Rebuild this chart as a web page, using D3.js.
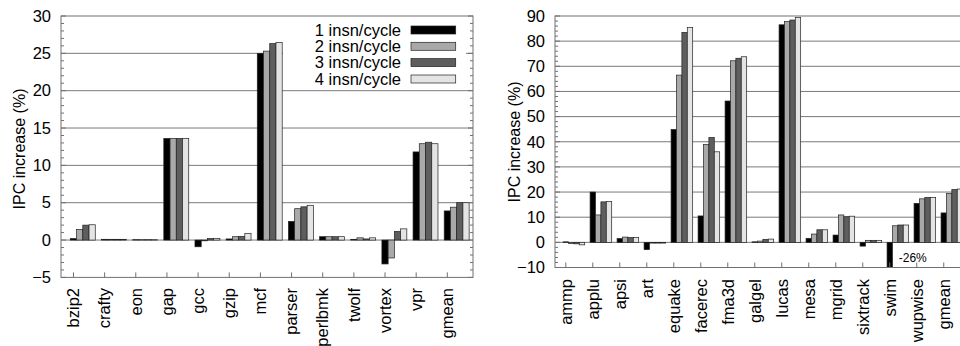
<!DOCTYPE html>
<html><head><meta charset="utf-8">
<script src="https://cdn.jsdelivr.net/npm/d3@7"></script>
<style>body{margin:0;background:#fff}svg{display:block}text{font-family:"Liberation Sans",Arial,sans-serif;fill:#000}</style>
</head><body><svg id="c" width="960" height="346"></svg>
<script>
const seriesNames = ["1 insn/cycle","2 insn/cycle","3 insn/cycle","4 insn/cycle"];
const seriesColors = ["#000000","#a9a9a9","#5e5e5e","#e4e4e4"];

const intCats = ["bzip2","crafty","eon","gap","gcc","gzip","mcf","parser","perlbmk","twolf","vortex","vpr","gmean"];
const int1 = [0.2, 0.1, 0.05, 13.6, -0.9, 0.15, 25.0, 2.5, 0.45, 0.1, -3.2, 11.8, 3.9];
const int2 = [1.4, 0.1, 0.05, 13.6, -0.1, 0.45, 25.3, 4.2, 0.45, 0.3, -2.4, 12.9, 4.4];
const int3 = [2.0, 0.1, 0.05, 13.6, 0.2, 0.5, 26.3, 4.45, 0.45, 0.15, 1.15, 13.1, 5.0];
const int4 = [2.05, 0.1, 0.05, 13.6, 0.2, 0.9, 26.45, 4.65, 0.45, 0.3, 1.5, 12.9, 5.0];
const intTicks = [-5, 0, 5, 10, 15, 20, 25, 30];

const fpCats = ["ammp","applu","apsi","art","equake","facerec","fma3d","galgel","lucas","mesa","mgrid","sixtrack","swim","wupwise","gmean"];
const fp1 = [0.2, 20.0, 1.5, -2.9, 44.9, 10.5, 56.2, 0.2, 86.5, 1.6, 2.9, -1.5, -26, 15.5, 11.7];
const fp2 = [-0.5, 10.9, 2.1, -0.3, 66.5, 38.9, 72.2, 0.5, 87.8, 3.3, 10.9, 0.8, 6.6, 17.3, 19.4];
const fp3 = [-0.6, 16.1, 1.9, -0.3, 83.5, 41.7, 73.2, 1.2, 88.4, 5.0, 10.2, 0.8, 6.9, 17.9, 21.0];
const fp4 = [-1.0, 16.3, 1.9, -0.3, 85.4, 36.0, 73.8, 1.3, 89.4, 5.0, 10.4, 0.8, 6.9, 17.9, 21.2];
const fpTicks = [-10, 0, 10, 20, 30, 40, 50, 60, 70, 80, 90];
const swimNote = "-26%";

const svg = d3.select("#c");

function drawChart(opt) {
  const {cats, series, ticks, left, right, top, bottom, titleX, titleY, labelY, minorStep, xmax} = opt;
  const g = svg.append("g");
  const x = d3.scaleLinear().domain([-0.4, xmax]).range([left, right]);
  const y = d3.scaleLinear().domain([ticks[0], ticks[ticks.length-1]]).range([bottom, top]).clamp(true);
  const bw = x(0.2) - x(0);
  const frameR = Math.min(right, 960);

  // grid lines
  g.append("g").selectAll("line").data(ticks.filter(t => t > ticks[0] && t < ticks[ticks.length-1]))
    .join("line").attr("x1", left).attr("x2", right).attr("y1", d => y(d)).attr("y2", d => y(d))
    .attr("stroke", "#7a7a7a").attr("stroke-width", 1);

  // bars
  series.forEach((vals, j) => {
    g.append("g").selectAll("rect").data(vals).join("rect")
      .attr("x", (d, i) => x(i) - bw / 2 + j * bw)
      .attr("width", bw)
      .attr("y", d => Math.min(y(d), y(0)))
      .attr("height", d => Math.abs(y(d) - y(0)))
      .attr("fill", seriesColors[j])
      .attr("stroke", "#222").attr("stroke-width", 0.7);
  });

  // frame
  g.append("rect").attr("x", left).attr("y", top).attr("width", right - left).attr("height", bottom - top)
    .attr("fill", "none").attr("stroke", "#707070").attr("stroke-width", 1);

  // minor/major y ticks (left and mirrored right)
  const minor = d3.range(ticks[0], ticks[ticks.length-1] + 0.001, minorStep);
  const tg = g.append("g").attr("stroke", "#707070").attr("stroke-width", 1);
  minor.forEach(v => {
    const major = ticks.includes(Math.round(v * 1000) / 1000);
    const len = major ? 5 : 3;
    tg.append("line").attr("x1", left).attr("x2", left + len).attr("y1", y(v)).attr("y2", y(v));
    tg.append("line").attr("x1", right).attr("x2", right - len).attr("y1", y(v)).attr("y2", y(v));
  });

  // y axis labels
  const yAxis = d3.axisLeft(y).tickValues(ticks).tickSize(0).tickPadding(10).tickFormat(d3.format("d"));
  const ya = g.append("g").attr("transform", `translate(${left},0)`).call(yAxis);
  ya.select(".domain").remove();
  ya.selectAll("text").attr("font-size", "16.5px").attr("font-family", "Liberation Sans, Arial, sans-serif").attr("fill", "#000");

  // x ticks
  g.append("g").selectAll("line").data(cats).join("line")
    .attr("x1", (d, i) => x(i)).attr("x2", (d, i) => x(i))
    .attr("y1", bottom).attr("y2", bottom - 5).attr("stroke", "#707070");

  // x labels
  g.append("g").selectAll("text").data(cats).join("text")
    .attr("transform", (d, i) => `translate(${x(i)},${labelY}) rotate(-90)`)
    .attr("text-anchor", "end").attr("dy", "0.35em")
    .attr("font-size", "16.5px").text(d => d);

  // y title
  g.append("text").attr("transform", `translate(${titleX},${titleY}) rotate(-90)`)
    .attr("text-anchor", "middle").attr("dy", "0.35em").attr("font-size", "16px").text("IPC increase (%)");

  return {g, x, y};
}

const c1 = drawChart({cats: intCats, series: [int1, int2, int3, int4], ticks: intTicks,
  left: 61, right: 473, top: 16, bottom: 277.4, titleX: 19, titleY: 149, labelY: 288, minorStep: 1, xmax: 12.824});

// legend
const lg = c1.g.append("g");
lg.append("rect").attr("x", 283).attr("y", 20).attr("width", 183).attr("height", 68).attr("fill", "#fff");
const rowY = [30, 46.3, 62.6, 79];
seriesNames.forEach((n, j) => {
  lg.append("text").attr("x", 401).attr("y", rowY[j]).attr("dy", "0.35em").attr("text-anchor", "end")
    .attr("font-size", "16.5px").text(n);
  lg.append("rect").attr("x", 411).attr("y", rowY[j] - 4).attr("width", 44.7).attr("height", 8)
    .attr("fill", seriesColors[j]).attr("stroke", "#222").attr("stroke-width", 0.7);
});

const c2 = drawChart({cats: fpCats, series: [fp1, fp2, fp3, fp4], ticks: fpTicks,
  left: 555, right: 966, top: 16, bottom: 267.5, titleX: 514, titleY: 142, labelY: 279, minorStep: 2, xmax: 14.824});

// -26% annotation next to swim bar
const swimIdx = fpCats.indexOf("swim");
c2.g.append("text").attr("x", c2.x(swimIdx) + 9).attr("y", c2.y(-6)).attr("dy", "0.35em")
  .attr("font-size", "12px").text(swimNote);
</script></body></html>
